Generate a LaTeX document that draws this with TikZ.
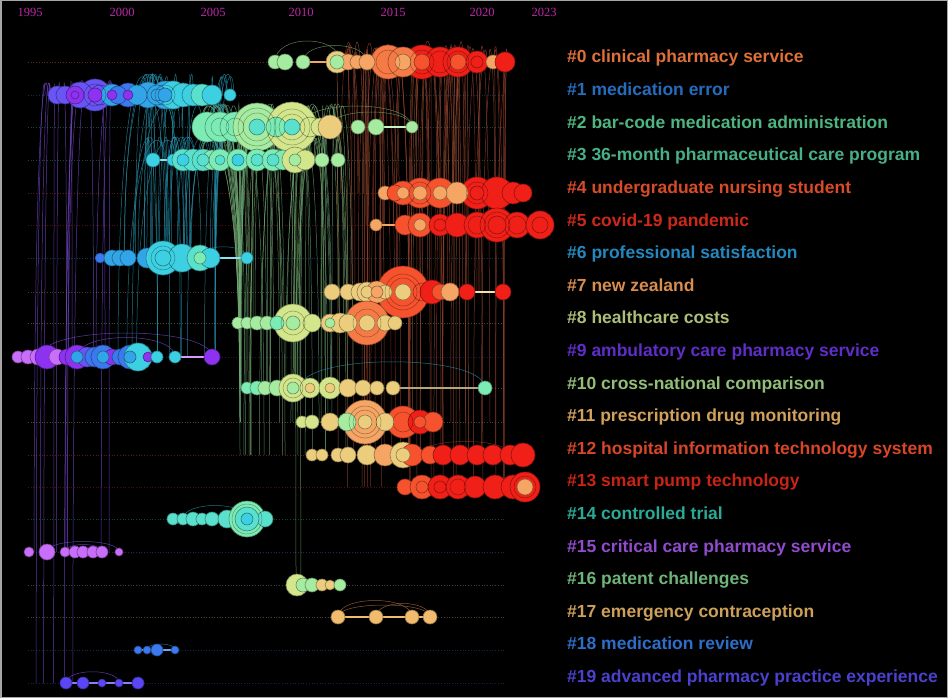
\documentclass[tikz,border=0pt]{standalone}
\usepackage{fontspec}
\setmainfont{Liberation Sans}
\newfontfamily\yearfont{Liberation Serif}
% bubble colours (by year)
\definecolor{lpur}{RGB}{200,110,250}
\definecolor{pur}{RGB}{140,50,240}
\definecolor{vio}{RGB}{105,85,245}
\definecolor{bvio}{RGB}{90,70,245}
\definecolor{blu}{RGB}{60,120,238}
\definecolor{cyb}{RGB}{50,165,232}
\definecolor{cya}{RGB}{60,208,226}
\definecolor{aqu}{RGB}{90,225,205}
\definecolor{agr}{RGB}{125,236,180}
\definecolor{lgr}{RGB}{165,236,160}
\definecolor{ygr}{RGB}{212,230,140}
\definecolor{tan}{RGB}{236,205,125}
\definecolor{sand}{RGB}{242,188,110}
\definecolor{lor}{RGB}{245,165,100}
\definecolor{ora}{RGB}{246,122,70}
\definecolor{ore}{RGB}{246,82,46}
\definecolor{red}{RGB}{240,32,24}
% label colours
\definecolor{c0}{RGB}{222,112,58}
\definecolor{c1}{RGB}{38,108,188}
\definecolor{c2}{RGB}{78,180,128}
\definecolor{c3}{RGB}{72,176,136}
\definecolor{c4}{RGB}{215,75,40}
\definecolor{c5}{RGB}{205,40,25}
\definecolor{c6}{RGB}{36,136,190}
\definecolor{c7}{RGB}{215,140,80}
\definecolor{c8}{RGB}{172,190,120}
\definecolor{c9}{RGB}{95,45,200}
\definecolor{c10}{RGB}{145,190,120}
\definecolor{c11}{RGB}{210,160,90}
\definecolor{c12}{RGB}{215,70,40}
\definecolor{c13}{RGB}{200,35,20}
\definecolor{c14}{RGB}{42,170,150}
\definecolor{c15}{RGB}{145,75,205}
\definecolor{c16}{RGB}{110,180,120}
\definecolor{c17}{RGB}{205,160,90}
\definecolor{c18}{RGB}{45,110,200}
\definecolor{c19}{RGB}{75,65,205}
\definecolor{yearc}{RGB}{190,40,170}
\definecolor{lkred}{RGB}{150,55,40}
\definecolor{lkora}{RGB}{180,115,70}
\definecolor{lkgrn}{RGB}{125,170,105}
\definecolor{lkaqu}{RGB}{85,165,140}
\definecolor{lkteal}{RGB}{40,150,178}
\definecolor{lkpur}{RGB}{125,75,215}
\tikzset{
  lab/.style={anchor=base west,inner sep=0pt,font=\bfseries\fontsize{17.5}{20}\selectfont},
  yr/.style={inner sep=0pt,text=yearc,font=\yearfont\fontsize{12.5}{14}\selectfont},
  rowline/.style={dotted,line width=.7pt},
  bub/.style={fill=#1,draw=#1!60!black,line width=.6pt},
  lnk/.style={draw=#1,line width=.5pt,opacity=.75},
  bond/.style={draw=#1,line width=1.4pt}
}
\newcommand{\bubs}[2]{\foreach \bx/\br/\bc in {#2}{\filldraw[bub=\bc] (\bx,#1) circle[radius=\br pt];}}
\newcommand{\rngs}[2]{\foreach \bx/\br in {#2}{\draw[black,opacity=.35,line width=.5pt] (\bx,#1) circle[radius=\br pt];}}
\newcommand{\hop}[5]{\draw[lnk=#5] (#1,#3) .. controls (#1,#3-#4) and (#2,#3-#4) .. (#2,#3);}
\begin{document}
\begin{tikzpicture}[x=1pt,y=-1pt]
\useasboundingbox (0,0) rectangle (948,698);
\fill[black] (0,0) rectangle (948,698);
\draw[gray!70,line width=1.5pt] (0.75,0.75) rectangle (947.25,697.25);
% years
\foreach \yr/\x in {1995/30,2000/122,2005/213,2010/301,2015/393,2020/482,2023/544}
  \node[yr] (y\yr) at (\x,12) {\yr};
% row lines
\foreach \y/\c in {62/c0,95/c1,127/c2,160/c3,193/c4,225/c5,258/c6,292/c7,323/c8,357/c9,388/c10,422/c11,455/c12,487/c13,519/c14,552/c15,585/c16,617/c17,650/c18,683/c19}
  \draw[rowline,draw=\c!40!black] (28,\y) -- (505,\y);
% citation links
\pgfmathsetseed{5}
\foreach \i in {1,...,95}{
  \pgfmathsetmacro\xa{345+165*rnd}
  \pgfmathsetmacro\xb{\xa+30*rnd-15}
  \pgfmathsetmacro\yb{{193,225,292,292,422,455,455,487,487}[int(8.99*rnd)]}
  \pgfmathsetmacro\yt{22+28*rnd}
  \pgfmathsetmacro\mx{int(40+60*rnd)}
  \draw[lnk=lkred!\mx!lkora] (\xa,62) .. controls (\xa,\yt) and (\xb,\yt) .. (\xb,\yb);
}
\foreach \i in {1,...,95}{
  \pgfmathsetmacro\ya{{127,160}[int(1.99*rnd)]}
  \pgfmathsetmacro\xa{200+140*rnd}
  \pgfmathsetmacro\xb{min(390,max(240,\xa+50*rnd-25))}
  \pgfmathsetmacro\yb{{323,323,388,388,422,455}[int(5.99*rnd)]}
  \pgfmathsetmacro\mx{int(30+70*rnd)}
  \draw[lnk=lkgrn!\mx!lkaqu] (\xa,\ya) .. controls (\xa,\ya-45) and (\xb,\ya-45) .. (\xb,\yb);
}
\foreach \i in {1,...,55}{
  \pgfmathsetmacro\ya{{95,127,160}[int(2.99*rnd)]}
  \pgfmathsetmacro\xa{145+90*rnd}
  \pgfmathsetmacro\xb{max(100,min(215,\xa+60*rnd-40))}
  \pgfmathsetmacro\yb{{258,258,258,357}[int(3.99*rnd)]}
  \draw[lnk=lkteal] (\xa,\ya) .. controls (\xa,\ya-40) and (\xb,\ya-40) .. (\xb,\yb);
}
\foreach \i in {1,...,18}{
  \pgfmathsetmacro\xa{45+70*rnd}
  \pgfmathsetmacro\xb{max(22,min(119,\xa+30*rnd-20))}
  \pgfmathsetmacro\yb{{357,357,552,552,552,683}[int(5.99*rnd)]}
  \draw[lnk=lkpur] (\xa,95) .. controls (\xa,62) and (\xb,62) .. (\xb,\yb);
}
\draw[lnk=lkgrn] (292,127) .. controls (292,100) and (296,200) .. (296,585);
\draw[lnk=lkgrn] (300,160) .. controls (300,140) and (300,220) .. (301,585);
\draw[lnk=lkora] (337,62) .. controls (337,50) and (338,120) .. (338,455);
% arcs along the rows
\hop{275}{340}{62}{28}{lkgrn}
\hop{303}{367}{62}{22}{lkgrn}
\hop{300}{412}{127}{28}{lkgrn}
\hop{330}{412}{127}{20}{lkgrn}
\hop{200}{247}{258}{15}{lkteal}
\hop{40}{212}{357}{32}{lkpur}
\hop{77}{175}{357}{26}{lkpur}
\hop{300}{485}{388}{35}{lkteal}
\hop{420}{510}{455}{18}{lkred}
\hop{183}{247}{519}{18}{lkteal}
\hop{47}{119}{552}{14}{lkpur}
\hop{65}{102}{552}{10}{lkpur}
\hop{338}{412}{617}{22}{lkora}
\hop{376}{430}{617}{18}{lkora}
\hop{338}{430}{617}{16}{lkora}
\hop{147}{175}{650}{8}{lkteal}
\hop{66}{119}{683}{15}{lkpur}
% straight bonds
\draw[bond=lor] (303,62) -- (337,62);
\draw[bond=lgr!60!white] (376,127) -- (412,127);
\draw[bond=cya!60!white] (153,160) -- (173,160);
\draw[bond=lor] (376,225) -- (400,225);
\draw[bond=cya!60!white] (212,258) -- (247,258);
\draw[bond=tan!60!white] (467,292) -- (503,292);
\draw[bond=lpur!70!white] (175,357) -- (212,357);
\draw[bond=tan!50!gray] (393,388) -- (485,388);
\draw[bond=sand] (338,617) -- (430,617);
\draw[bond=blu!70!white] (138,650) -- (175,650);
\draw[bond=bvio!70!white] (66,683) -- (138,683);
% bubbles
\bubs{62}{388/17/ora,422/17/red,403/15/ora,440/15/red,458/15/red,477/11/red,337/11/tan,275/7/lgr,285/8/lgr,303/7/lgr,348/8/lor,357/7/lor,367/8/lor,493/7/lor,505/10/red,337/7/lgr,403/8/lor,422/8/ore,458/8/ore,477/6/red}
\rngs{62}{388/12,422/12,440/11,458/11}
\bubs{95}{95/16/vio,165/14/cyb,173/14/cya,128/12/blu,148/13/cyb,80/13/vio,183/12/cya,193/11/cya,202/11/aqu,212/10/cya,57/9/vio,65/9/vio,75/9/pur,100/10/vio,112/11/cyb,118/9/blu,137/10/cyb,157/10/cyb,230/6/cya,75/4/pur,95/7/pur,112/5/pur,128/5/pur,157/6/cyb,165/7/cyb}
\rngs{95}{95/11,165/10}
\bubs{127}{207/15/agr,220/15/agr,235/15/agr,257/24/lgr,292/25/ygr,276/10/agr,310/10/ygr,320/9/ygr,330/12/tan,358/7/lgr,376/8/lgr,412/6/lgr,257/8/aqu,292/8/aqu}
\rngs{127}{257/14,257/19,292/13,292/18,220/9,235/9}
\bubs{160}{153/7/cya,173/6/cya,183/11/aqu,193/11/aqu,203/11/aqu,212/10/agr,220/11/agr,238/11/agr,257/11/agr,273/11/agr,283/10/agr,295/13/ygr,305/10/ygr,322/7/lgr,338/7/lgr,183/6/cya,203/6/aqu,220/5/aqu,238/6/cya,257/6/aqu,273/6/aqu,295/6/lgr}
\bubs{193}{420/15/ore,440/15/ore,477/16/red,497/16/red,403/12/ore,457/11/lor,385/7/lor,395/8/ore,513/11/red,523/9/red,403/6/lor,420/7/lor,440/7/lor,477/7/red}
\rngs{193}{420/11,477/11}
\bubs{225}{405/10/ore,420/12/ore,440/11/red,457/12/red,477/13/red,497/17/red,517/13/red,540/14/red,376/6/lor,420/6/lor,440/6/red,497/9/red,540/8/red}
\rngs{225}{497/13,477/9,517/9}
\bubs{258}{100/5/blu,112/8/cyb,120/8/cyb,128/8/cyb,147/10/cyb,163/17/cya,182/14/cya,200/13/aqu,210/10/cya,247/6/cya,163/8/cya,200/6/agr}
\rngs{258}{163/12}
\bubs{292}{403/26/ore,332/8/tan,348/8/tan,360/9/tan,367/10/tan,377/11/lor,385/7/tan,422/9/ore,432/12/red,440/8/ore,450/9/lor,467/8/red,503/8/red,403/8/tan,367/6/tan,377/6/lor}
\rngs{292}{403/14,403/18}
\bubs{323}{293/19/ygr,367/22/ora,238/6/lgr,247/6/lgr,257/7/lgr,267/7/lgr,277/7/agr,312/9/ygr,330/9/tan,340/10/tan,348/9/tan,385/8/tan,395/7/tan,293/7/lgr,330/5/lgr,367/8/tan}
\rngs{323}{293/12,367/14}
\bubs{357}{18/6/lpur,28/7/lpur,38/8/lpur,47/12/pur,57/8/lpur,67/8/pur,77/12/pur,87/10/vio,95/10/blu,103/12/blu,112/8/pur,120/8/blu,130/12/blu,138/14/cya,148/5/pur,157/6/cya,175/6/cya,212/8/pur,77/6/cyb,103/6/cyb,130/6/cyb}
\bubs{388}{247/6/agr,257/7/agr,265/7/lgr,277/8/lgr,293/14/ygr,310/10/ygr,330/11/ygr,348/9/tan,363/8/tan,377/7/tan,393/7/tan,485/7/agr,293/6/lgr,310/5/tan,330/5/tan}
\rngs{388}{293/10}
\bubs{422}{365/22/lor,403/16/ore,302/6/ygr,312/7/ygr,330/9/tan,347/9/lgr,385/9/tan,420/12/red,433/10/ore,365/7/tan,420/6/ore}
\rngs{422}{365/12,365/16,403/10}
\bubs{455}{312/6/tan,322/6/tan,338/7/tan,348/8/tan,367/10/tan,385/11/lor,403/13/tan,412/11/ore,430/9/ore,443/10/red,460/10/red,477/10/red,493/10/red,510/10/red,523/12/red,403/7/tan}
\bubs{487}{405/8/ore,422/12/ore,440/12/red,458/12/red,475/11/red,495/12/red,513/12/red,525/15/red,422/6/ore,440/6/red,525/8/lor}
\rngs{487}{525/11,458/8}
\bubs{519}{173/6/aqu,183/6/aqu,193/7/aqu,202/6/aqu,212/7/aqu,227/9/aqu,247/18/agr,265/8/aqu,247/12/aqu,247/6/cya}
\rngs{519}{247/15}
\bubs{552}{29/5/lpur,47/8/lpur,65/5/lpur,75/6/lpur,83/6/lpur,93/6/lpur,102/6/lpur,119/4/lpur}
\bubs{585}{297/11/ygr,303/7/lgr,312/7/lgr,322/6/tan,330/5/tan,340/6/lgr}
\bubs{617}{338/7/sand,376/7/sand,412/7/sand,430/7/sand}
\bubs{650}{138/4/blu,147/4/blu,157/6/blu,175/4/blu}
\bubs{683}{66/6/bvio,83/6/bvio,102/4/bvio,119/4/bvio,138/6/bvio}
% cluster labels
\foreach \i/\t in {0/clinical pharmacy service,1/medication error,2/bar-code medication administration,3/36-month pharmaceutical care program,4/undergraduate nursing student,5/covid-19 pandemic,6/professional satisfaction,7/new zealand,8/healthcare costs,9/ambulatory care pharmacy service,10/cross-national comparison,11/prescription drug monitoring,12/hospital information technology system,13/smart pump technology,14/controlled trial,15/critical care pharmacy service,16/patent challenges,17/emergency contraception,18/medication review,19/advanced pharmacy practice experience}
  \node[lab,text=c\i] (l\i) at (567,{63+32.6*\i}) {\#\i\ \t};
\end{tikzpicture}
\end{document}
